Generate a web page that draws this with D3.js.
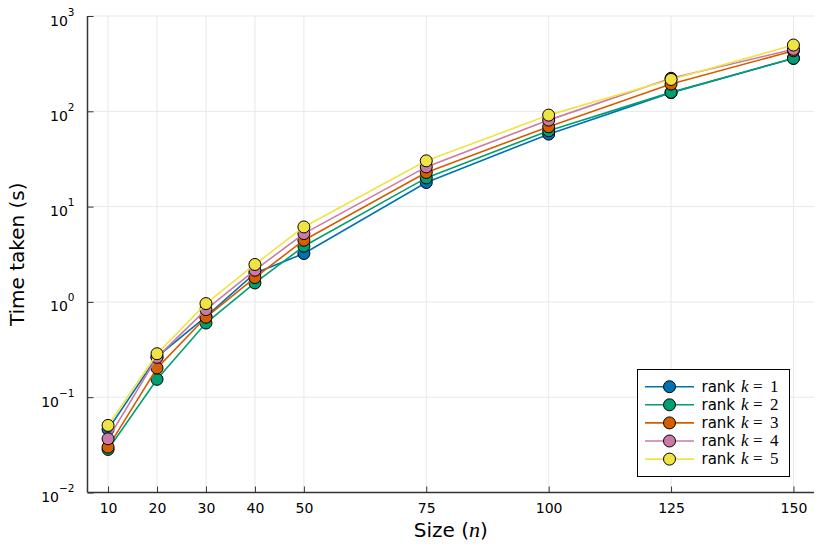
<!DOCTYPE html>
<html>
<head>
<meta charset="utf-8">
<script src="https://cdn.jsdelivr.net/npm/d3@7"></script>
<style>
  body { margin: 0; background: #fff; }
  text { font-family: "DejaVu Sans", sans-serif; }
</style>
</head>
<body>
<div id="chart"></div>
<script>
// sizes n on the x axis
var sizes = [10, 20, 30, 40, 50, 75, 100, 125, 150];
var ranks = [1, 2, 3, 4, 5];
// time taken (s), one array per rank
var rank1 = [0.0459, 0.265, 0.70, 2.0, 3.22, 17.9, 57.6, 157, 359];
var rank2 = [0.0283, 0.154, 0.60, 1.58, 3.84, 20.0, 62.4, 158, 360];
var rank3 = [0.0299, 0.202, 0.69, 1.80, 4.44, 22.8, 68.8, 193, 432];
var rank4 = [0.0366, 0.262, 0.83, 2.15, 5.21, 26.1, 80.8, 222, 447];
var rank5 = [0.0506, 0.286, 0.96, 2.47, 6.12, 30.2, 91.2, 216, 496];
var xTicks = [10, 20, 30, 40, 50, 75, 100, 125, 150];
var yTicks = [1e-2, 1e-1, 1e0, 1e1, 1e2, 1e3];
var yExps = ["\u22122", "\u22121", "0", "1", "2", "3"];

var series = [rank1, rank2, rank3, rank4, rank5];
var colors = ["#0072B2", "#009E73", "#D55E00", "#CC79A7", "#F0E442"];

var width = 830, height = 554;
var plot = {left: 87.5, right: 814, top: 16, bottom: 492.5};

var svg = d3.select("#chart").append("svg")
    .attr("width", width)
    .attr("height", height);

var x = d3.scaleLinear().domain([5.8, 154.2]).range([plot.left, plot.right]);
var y = d3.scaleLog().domain([1e-2, 1e3]).range([plot.bottom, plot.top]);

// grid
svg.append("g").selectAll("line.gx")
  .data(xTicks).enter().append("line")
    .attr("x1", function(d) { return x(d); })
    .attr("x2", function(d) { return x(d); })
    .attr("y1", plot.top).attr("y2", plot.bottom)
    .style("stroke", "#e8e8e8").style("stroke-width", 1);

svg.append("g").selectAll("line.gy")
  .data(yTicks).enter().append("line")
    .attr("x1", plot.left).attr("x2", plot.right)
    .attr("y1", function(d) { return y(d); })
    .attr("y2", function(d) { return y(d); })
    .style("stroke", "#e8e8e8").style("stroke-width", 1);

// axes (ticks point inward)
var xAxis = svg.append("g")
    .attr("transform", "translate(0," + plot.bottom + ")")
    .call(d3.axisBottom(x).tickValues(xTicks).tickSize(-6).tickPadding(11));
xAxis.select(".domain").attr("d", "M" + plot.left + ",0H" + plot.right)
    .style("stroke", "#333").style("stroke-width", 1.5);
xAxis.selectAll(".tick line").style("stroke", "#333");
xAxis.selectAll(".tick text").style("font-size", "14px")
    .style("font-family", "DejaVu Sans").attr("fill", "#000");

var yAxis = svg.append("g")
    .attr("transform", "translate(" + plot.left + ",0)")
    .call(d3.axisLeft(y).tickValues(yTicks).tickSize(-6).tickFormat(""));
yAxis.select(".domain").attr("d", "M0," + plot.top + "V" + plot.bottom)
    .style("stroke", "#333").style("stroke-width", 1.5);
yAxis.selectAll(".tick line").style("stroke", "#333");

// y tick labels as 10^k
var ylab = svg.append("g").selectAll("text.ylab")
  .data(yTicks).enter().append("text")
    .attr("x", 74.5)
    .attr("y", function(d) { return y(d) + 9.5; })
    .attr("text-anchor", "end")
    .style("font-size", "14px");
ylab.append("tspan").text("10");
ylab.append("tspan")
    .attr("dy", -10)
    .style("font-size", "10.5px")
    .text(function(d, i) { return yExps[i]; });

// series lines + markers
var line = d3.line()
    .x(function(d, i) { return x(sizes[i]); })
    .y(function(d) { return y(d); });

series.forEach(function(s, k) {
  svg.append("path")
    .datum(s)
    .attr("d", line)
    .style("fill", "none")
    .style("stroke", colors[k])
    .style("stroke-width", 1.6);
  svg.append("g").selectAll("circle")
    .data(s).enter().append("circle")
      .attr("cx", function(d, i) { return x(sizes[i]); })
      .attr("cy", function(d) { return y(d); })
      .attr("r", 6)
      .style("fill", colors[k])
      .style("stroke", "#000")
      .style("stroke-width", 1);
});

// axis titles
svg.append("text")
    .attr("transform", "translate(24," + ((plot.top + plot.bottom) / 2) + ") rotate(-90)")
    .attr("text-anchor", "middle")
    .style("font-size", "20px")
    .text("Time taken (s)");

var xt = svg.append("text")
    .attr("x", (plot.left + plot.right) / 2)
    .attr("y", 537)
    .attr("text-anchor", "middle")
    .style("font-size", "20px");
xt.append("tspan").text("Size (");
xt.append("tspan").style("font-family", "Liberation Serif").style("font-style", "italic")
    .style("font-size", "22px").text("n");
xt.append("tspan").text(")");

// legend
var legend = svg.append("g");
legend.append("rect")
    .attr("x", 637.5).attr("y", 369.5)
    .attr("width", 152).attr("height", 107)
    .style("fill", "#fff").style("stroke", "#000").style("stroke-width", 1);

ranks.forEach(function(r, k) {
  var ly = 386.7 + k * 18.1;
  legend.append("line")
    .attr("x1", 645).attr("x2", 694)
    .attr("y1", ly).attr("y2", ly)
    .style("stroke", colors[k]).style("stroke-width", 1.6);
  legend.append("circle")
    .attr("cx", 669.5).attr("cy", ly).attr("r", 6)
    .style("fill", colors[k]).style("stroke", "#000").style("stroke-width", 1);
  var t = legend.append("text")
    .attr("x", 701.5).attr("y", ly + 5)
    .style("font-size", "15px");
  t.append("tspan").text("rank");
  t.append("tspan").attr("x", 741).style("font-family", "Liberation Serif").style("font-style", "italic")
      .style("font-size", "17px").text("k");
  t.append("tspan").attr("x", 753).style("font-family", "Liberation Serif")
      .style("font-size", "17px").text("=");
  t.append("tspan").attr("x", 770).style("font-family", "Liberation Serif")
      .style("font-size", "17px").text(r);
});
</script>
</body>
</html>
